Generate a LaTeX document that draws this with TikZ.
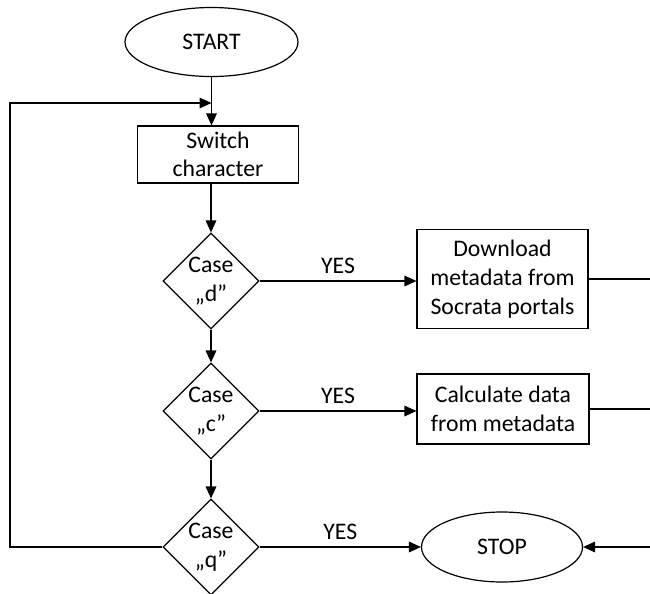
\documentclass[tikz,border=0pt]{standalone}
\usepackage{fontspec}
\setmainfont{Carlito}
\usetikzlibrary{shapes.geometric,arrows.meta}
\begin{document}
\begin{tikzpicture}[x=0.75pt,y=-0.75pt,
  every node/.style={font=\fontsize{17.8}{21.5}\selectfont, align=center},
  line/.style={line width=0.9pt},
  arr/.style={line, -{Triangle[length=9pt,width=8pt]}},
  term/.style={ellipse, draw, line width=0.9pt, inner sep=0pt},
  proc/.style={rectangle, draw, line width=0.9pt, inner sep=0pt},
  dec/.style={diamond, draw, line width=0.9pt, inner sep=0pt, minimum width=72pt, minimum height=72pt},
  yes/.style={midway, above, inner sep=5pt}]
\useasboundingbox (0,0) rectangle (650,593);

\node[term, minimum width=129.75pt, minimum height=51.75pt] (start) at (211.5,42) {START};
\node[proc, minimum width=120.75pt, minimum height=42.75pt] (switch) at (218,154.5) {Switch\\character};
\node[dec, label={[align=center]center:Case\\„d”}] (d) at (211,281) {};
\node[proc, minimum width=128.25pt, minimum height=74.25pt] (download) at (502.5,279) {Download\\metadata from\\Socrata portals};
\node[dec, label={[align=center]center:Case\\„c”}] (c) at (211,411) {};
\node[proc, minimum width=129pt, minimum height=52.5pt] (calc) at (503,409) {Calculate data\\from metadata};
\node[dec, label={[align=center]center:Case\\„q”}] (q) at (211,547) {};
\node[term, minimum width=120.75pt, minimum height=52.5pt] (stop) at (502,547) {STOP};

\coordinate (lc) at (10,103);
\coordinate (r1) at (650,279);
\coordinate (r2) at (650,409);
\coordinate (r3) at (650,547);

\draw[arr] (start.south) -- (start.south |- switch.north);
\draw[arr] (q.west) -| (lc) -- (start.south |- lc);
\draw[arr] (switch.south -| d.north) -- (d.north);
\draw[arr] (d.south) -- (c.north);
\draw[arr] (c.south) -- (q.north);
\draw[arr] (d.east) -- node[yes] (y1) {YES} (d.east -| download.west);
\draw[arr] (c.east) -- node[yes] (y2) {YES} (c.east -| calc.west);
\draw[arr] (q.east) -- node[yes] (y3) {YES} (stop.west);
\draw[line] (download.east) -- (r1);
\draw[line] (calc.east) -- (r2);
\draw[arr] (r3) -- (stop.east);
\end{tikzpicture}
\end{document}
